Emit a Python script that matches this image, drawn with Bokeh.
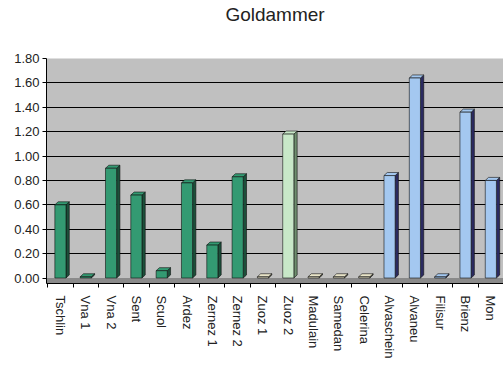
import math
from bokeh.plotting import figure
from bokeh.models import Range1d, FixedTicker, ColumnDataSource, BoxAnnotation, LinearAxis
from bokeh.embed import file_html
from bokeh.resources import INLINE

# ---- data ----
title_text = "Goldammer"
categories = ["Tschlin", "Vna 1", "Vna 2", "Sent", "Scuol", "Ardez", "Zernez 1",
              "Zernez 2", "Zuoz 1", "Zuoz 2", "Madulain", "Samedan", "Celerina",
              "Alvaschein", "Alvaneu", "Filisur", "Brienz", "Mon"]
values = [0.60, 0.01, 0.90, 0.68, 0.06, 0.78, 0.27, 0.83, 0.01, 1.18, 0.01, 0.01,
          0.01, 0.84, 1.64, 0.01, 1.36, 0.80]
y_ticks = [0.0, 0.2, 0.4, 0.6, 0.8, 1.0, 1.2, 1.4, 1.6, 1.8]
y_tick_labels = ["0.00", "0.20", "0.40", "0.60", "0.80", "1.00", "1.20", "1.40", "1.60", "1.80"]

# ---- styles ----
GREEN, GREEN_D = "#339a72", "#1c4f3a"
LGREEN, LGREEN_D = "#c8e8c8", "#6f8f6f"
CREAM, CREAM_D = "#e8e4c8", "#555544"
BLUE, BLUE_D = "#a4c8f0", "#2a2a60"
front = [GREEN]*8 + [CREAM, LGREEN, CREAM, CREAM, CREAM] + [BLUE]*5
side = [GREEN_D]*8 + [CREAM_D, LGREEN_D, CREAM_D, CREAM_D, CREAM_D] + [BLUE_D]*5

W = 0.44
DX = 0.13
DY = 0.025

xs = list(range(len(categories)))
src = ColumnDataSource(dict(x=xs, top=values, color=front, side=side))

side_xs, side_ys, cap_xs, cap_ys = [], [], [], []
for x, v in zip(xs, values):
    r = x + W / 2
    l = x - W / 2
    side_xs.append([r, r + DX, r + DX, r])
    side_ys.append([0, DY, v + DY, v])
    cap_xs.append([l, l + DX, r + DX, r])
    cap_ys.append([v, v + DY, v + DY, v])

p = figure(width=503, height=371, output_backend="svg", toolbar_location=None,
           x_range=Range1d(-0.55, 17.5), y_range=Range1d(-0.045, 1.8),
           min_border_left=46, min_border_right=0, min_border_top=58,
           min_border_bottom=88)

# title drawn as the label of an empty axis above the frame
title_axis = LinearAxis(ticker=FixedTicker(ticks=[]), axis_label=title_text)
title_axis.axis_line_color = None
title_axis.major_tick_line_color = None
title_axis.minor_tick_line_color = None
title_axis.axis_label_text_font = "Liberation Sans"
title_axis.axis_label_text_font_size = "19px"
title_axis.axis_label_text_font_style = "normal"
title_axis.axis_label_text_color = "#222222"
title_axis.axis_label_standoff = 34
p.add_layout(title_axis, "above")

p.background_fill_color = "#c0c0c0"
p.border_fill_color = "white"
p.outline_line_color = None

p.add_layout(BoxAnnotation(bottom=-0.045, top=0, fill_color="#8a8a8a", fill_alpha=1,
                           line_color=None, level="underlay"))

p.ygrid.ticker = FixedTicker(ticks=y_ticks[1:])
p.ygrid.grid_line_color = "black"
p.ygrid.grid_line_width = 1
p.xgrid.visible = False

p.patches(side_xs, side_ys, fill_color=side, line_color="#111111", line_width=0.6)
p.patches(cap_xs, cap_ys, fill_color=front, line_color="#111111", line_width=0.6)
p.vbar(x="x", top="top", bottom=0, width=W, fill_color="color",
       line_color="#111111", line_width=0.6, source=src)

p.yaxis.ticker = FixedTicker(ticks=y_ticks)
p.yaxis.major_label_overrides = {t: s for t, s in zip(y_ticks, y_tick_labels)}
p.yaxis.major_label_text_font = "Liberation Sans"
p.yaxis.major_label_text_font_size = "13px"
p.yaxis.major_label_text_color = "#222222"
p.yaxis.axis_line_color = "black"
p.yaxis.major_tick_line_color = "black"
p.yaxis.major_tick_in = 0
p.yaxis.major_tick_out = 4
p.yaxis.minor_tick_line_color = None
p.yaxis.major_label_standoff = 3

boundaries = [x + 0.5 for x in xs[:-1]] + [-0.5]
p.below[0].ticker = FixedTicker(ticks=xs, minor_ticks=boundaries)
xa = p.below[0]
xa.major_label_overrides = {x: c for x, c in zip(xs, categories)}
xa.major_label_orientation = -math.pi / 2
xa.major_label_text_font = "Liberation Sans"
xa.major_label_text_font_size = "13px"
xa.major_label_text_color = "#222222"
xa.major_tick_line_color = None
xa.minor_tick_line_color = "black"
xa.minor_tick_in = 0
xa.minor_tick_out = 4
xa.axis_line_color = "black"
xa.major_label_standoff = 6

open("out.html", "w").write(file_html(p, INLINE))
